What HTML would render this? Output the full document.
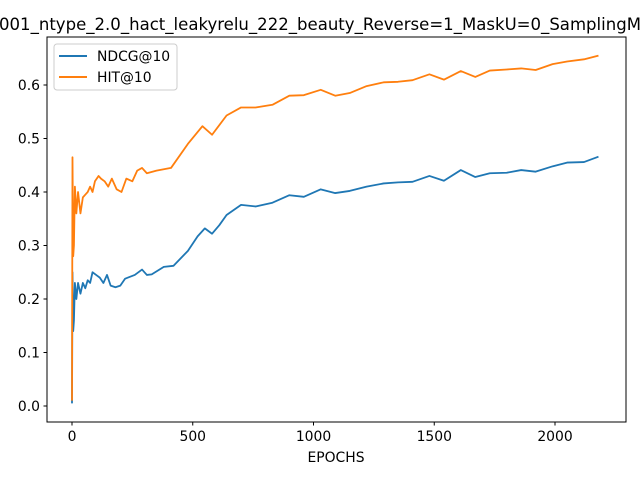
<!DOCTYPE html>
<html><head><meta charset="utf-8"><style>body{margin:0;background:#fff}svg{display:block;font-family:"DejaVu Sans","Liberation Sans",sans-serif}</style></head>
<body>
<svg id="c" width="640" height="480" viewBox="0 0 640 480" xmlns="http://www.w3.org/2000/svg">
<text x="-1" y="30" font-size="16.5" fill="#000" textLength="642" lengthAdjust="spacingAndGlyphs">001_ntype_2.0_hact_leakyrelu_222_beauty_Reverse=1_MaskU=0_SamplingM</text>
<g id="plot"></g>
<rect x="47" y="37" width="579" height="385" fill="none" stroke="#000" stroke-width="1"/>
<text x="336" y="462" font-size="13.9" text-anchor="middle">EPOCHS</text>
<g>
<rect x="54" y="44" width="123" height="46" rx="3" fill="#fff" fill-opacity="0.8" stroke="#ccc"/>
<line x1="59" y1="56" x2="87" y2="56" stroke="#1f77b4" stroke-width="2"/>
<text x="97" y="61" font-size="13.9">NDCG@10</text>
<line x1="59" y1="77" x2="87" y2="77" stroke="#ff7f0e" stroke-width="2"/>
<text x="97" y="82" font-size="13.9">HIT@10</text>
</g>
</svg>
<script>
const epochs=[0,2,5,8,12,18,25,35,45,55,65,75,85,100,115,130,145,160,180,200,220,260,290,310,330,380,420,480,520,550,580,610,640,700,760,830,900,960,1030,1090,1150,1220,1290,1350,1410,1480,1540,1610,1670,1730,1800,1860,1920,1990,2050,2120,2180];
const ndcg=[0.005,0.25,0.14,0.16,0.23,0.2,0.23,0.21,0.23,0.22,0.235,0.23,0.25,0.245,0.24,0.23,0.245,0.225,0.222,0.225,0.238,0.245,0.255,0.245,0.246,0.26,0.262,0.29,0.317,0.332,0.322,0.338,0.357,0.376,0.373,0.38,0.394,0.391,0.405,0.398,0.402,0.41,0.416,0.418,0.419,0.43,0.421,0.441,0.428,0.435,0.436,0.441,0.438,0.448,0.455,0.456,0.466];
const hitEpochs=[0,2,5,8,12,18,25,35,45,55,65,75,85,95,110,120,135,150,165,185,205,225,250,270,290,310,350,410,480,540,580,640,700,760,830,900,960,1030,1090,1150,1220,1290,1350,1410,1480,1540,1610,1670,1730,1800,1860,1920,1990,2050,2120,2180];
const hit=[0.01,0.465,0.28,0.3,0.41,0.36,0.4,0.36,0.39,0.395,0.4,0.41,0.4,0.42,0.43,0.425,0.42,0.41,0.425,0.405,0.4,0.425,0.42,0.44,0.445,0.435,0.44,0.445,0.49,0.523,0.507,0.543,0.558,0.558,0.563,0.58,0.581,0.591,0.58,0.585,0.598,0.605,0.606,0.609,0.62,0.61,0.626,0.615,0.627,0.629,0.631,0.628,0.639,0.644,0.648,0.655];
const xTicks=[0,500,1000,1500,2000];
const yTicks=[0.0,0.1,0.2,0.3,0.4,0.5,0.6];
const NS="http://www.w3.org/2000/svg";
const X=v=>72+v*0.2415, Y=v=>406-v*535;
const g=document.getElementById('plot');
function mk(t,a){const e=document.createElementNS(NS,t);for(const k in a)e.setAttribute(k,a[k]);g.appendChild(e);return e;}
xTicks.forEach(t=>{
 const l=mk('line',{x1:X(t),x2:X(t),y1:422,y2:425.5,stroke:'#000'});
 
 
 const s=mk('text',{x:X(t),y:441,'font-size':13.9,'text-anchor':'middle'});s.textContent=t;
 
 
});
yTicks.forEach(t=>{
 const l=mk('line',{x1:43.5,x2:47,y1:Y(t),y2:Y(t),stroke:'#000'});
 
 
 const s=mk('text',{x:40,y:Y(t)+5,'font-size':13.9,'text-anchor':'end'});s.textContent=t.toFixed(1);
 
 
});
function line(xs,ys,c,n){
 const p=mk('polyline',{points:xs.map((x,i)=>X(x)+','+Y(ys[i])).join(' '),fill:'none',stroke:c,'stroke-width':1.8,'stroke-linejoin':'round'});
 
 
}
line(epochs,ndcg,'#1f77b4','ndcg-line');
line(hitEpochs,hit,'#ff7f0e','hit-line');
</script>
</body></html>
